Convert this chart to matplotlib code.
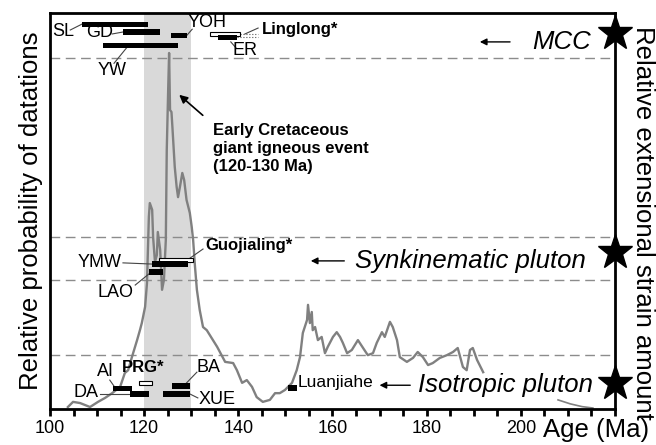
import matplotlib
matplotlib.use("Agg")
import matplotlib.pyplot as plt

plt.rcParams['font.family'] = ['Liberation Sans', 'DejaVu Sans']

# probability curve (age Ma, relative probability)
ages = [103.8, 104.9, 106.4, 108.5, 110.2, 111.7, 113.2, 114.9, 115.9, 116.6,
        117.4, 118.5, 119.1, 119.5, 120.2, 120.6, 120.8, 121.0, 121.2, 121.7,
        121.9, 122.3, 122.7, 122.9, 123.4, 123.8, 124.2, 124.6, 124.8, 125.1,
        125.3, 125.5, 125.8, 126.0, 126.5, 126.9, 127.2, 127.6, 128.1, 128.5,
        129.0, 129.7, 130.1, 130.4, 130.8, 131.2, 131.8, 132.5, 133.3, 135.5,
        137.2, 138.9, 139.7, 140.8, 141.8, 142.9, 143.9, 145.2, 146.7, 147.8,
        148.8, 149.9, 151.4, 152.4, 153.1, 153.7, 154.6, 154.8, 155.2, 155.6,
        155.8, 156.3, 156.9, 157.7, 158.4, 159.0, 160.1, 160.9, 161.6, 162.2,
        163.1, 164.1, 165.4, 166.5, 167.5, 168.6, 169.4, 170.5, 171.1, 172.2,
        172.8, 173.7, 174.3, 175.8, 177.1, 178.1, 179.2, 180.3, 181.3, 182.8,
        184.3, 185.6, 186.6, 187.7, 188.5, 189.2, 189.8, 190.7, 192.0]
prob = [0.5, 1.8, 1.5, 0.5, 1.8, 2.8, 4.0, 5.6, 9.1, 9.8,
        13.1, 17.4, 19.9, 21.7, 25.8, 31.8, 40.2, 48.5, 52.0, 50.3,
        43.4, 37.1, 38.9, 44.7, 40.2, 30.1, 32.6, 42.7, 65.4, 80.6,
        89.9, 75.5, 75.0, 71.2, 61.1, 56.1, 53.5, 56.1, 59.6, 57.8,
        52.8, 49.5, 46.0, 42.7, 35.9, 30.1, 25.0, 20.7, 19.9, 15.7,
        11.9, 11.6, 9.8, 6.6, 7.3, 5.6, 3.0, 1.8, 2.3, 4.0,
        4.0, 4.8, 6.6, 9.8, 13.1, 19.2, 22.5, 26.3, 21.7, 24.5,
        19.9, 20.7, 17.4, 18.2, 14.1, 15.7, 18.2, 19.4, 18.2, 16.7,
        14.1, 14.9, 17.4, 15.4, 13.6, 14.1, 16.7, 19.4, 18.2, 22.0,
        20.7, 17.4, 13.1, 11.9, 12.9, 14.4, 13.1, 11.1, 11.6, 12.9,
        13.6, 14.4, 15.4, 10.6, 9.8, 14.9, 15.4, 12.4, 9.3]
tail_ages = [207.9, 210.5, 213.0, 215.3]
tail_prob = [2.3, 1.3, 0.6, 0.25]

# age ranges of dated bodies: name, start, end, level, open (starred)
bar_names = ['SL', 'GD', 'YOH', 'YW', 'Linglong*', 'ER',
             'Guojialing*', 'YMW', 'LAO',
             'AI', 'DA', 'PRG*', 'BA', 'XUE', 'Luanjiahe']
bar_start = [106.8, 115.5, 125.7, 111.3, 134.0, 135.7,
             123.2, 121.7, 121.0,
             113.4, 117.0, 118.9, 125.9, 124.0, 150.5]
bar_end = [120.8, 123.4, 129.1, 127.2, 140.4, 139.7,
           130.4, 129.3, 124.0,
           117.4, 121.0, 121.7, 129.7, 129.7, 152.5]
bar_level = [97.2, 95.2, 94.4, 91.7, 94.7, 93.9,
             37.6, 36.6, 34.6,
             5.1, 3.8, 6.6, 5.8, 3.8, 5.3]
bar_open = [False, False, False, False, True, False,
            True, False, False,
            False, False, True, False, False, False]

dash_levels = [88.6, 43.4, 32.6, 13.6]
star_levels = [95.0, 39.6, 6.6]
event_span = (120, 130)

fig = plt.figure(figsize=(6.56, 4.45), dpi=100)
ax = fig.add_axes([0.0762, 0.0809, 0.8613, 0.8899])

ax.axvspan(event_span[0], event_span[1], color='#d9d9d9', lw=0, zorder=0)
for lv in dash_levels:
    ax.axhline(lv, color='#8c8c8c', lw=1, dashes=(7, 4), zorder=1)

ax.plot(ages, prob, color='#808080', lw=1.7, zorder=2)
ax.plot(tail_ages, tail_prob, color='#808080', lw=1.2, zorder=2)

for i in range(len(bar_names)):
    if bar_open[i]:
        ax.barh(bar_level[i], bar_end[i] - bar_start[i], left=bar_start[i], height=1.1,
                color='white', edgecolor='black', lw=0.8, zorder=4)
    else:
        ax.barh(bar_level[i], bar_end[i] - bar_start[i], left=bar_start[i], height=1.3,
                color='black', lw=0, zorder=4)

# dotted extension of Linglong / ER
ax.plot([140.4, 144.2], [94.7, 94.7], color='#555555', lw=0.8, ls=':', zorder=3)
ax.plot([139.7, 144.2], [93.9, 93.9], color='#555555', lw=0.8, ls=':', zorder=3)

def label(txt, tx, ty, lx=None, ly=None, bold=False, size=13, ha='center'):
    ax.text(tx, ty, txt, fontsize=size, ha=ha, va='center',
            fontweight='bold' if bold else 'normal', zorder=6)
    if lx is not None:
        ax.plot(lx, ly, color='#444444', lw=0.8, zorder=3)

label('SL', 102.8, 95.4, [104.3, 106.8], [95.7, 97.2])
label('GD', 110.6, 95.0, [113.2, 115.5], [94.7, 95.2])
label('YOH', 133.3, 97.6, [129.1, 130.2], [94.4, 95.9])
label('YW', 113.2, 85.6, [113.6, 116.4], [87.3, 91.4])
label('Linglong*', 145.0, 95.9, [141.4, 144.2], [94.7, 96.2], bold=True, size=12, ha='left')
label('ER', 141.4, 90.6, [138.4, 139.5], [92.7, 91.2])
label('YMW', 110.6, 37.1, [115.5, 121.7], [36.9, 36.6])
label('LAO', 114.0, 29.4, [118.1, 121.0], [31.3, 34.1])
label('Guojialing*', 132.9, 41.4, [132.5, 129.5], [40.4, 37.9], bold=True, size=12, ha='left')
label('AI', 111.7, 9.4, [112.7, 114.0], [7.3, 5.1])
label('DA', 107.6, 4.2, [110.6, 117.2], [3.8, 3.8])
label('PRG*', 119.8, 10.6, bold=True, size=12)
label('BA', 133.6, 10.6, [131.2, 128.2], [9.3, 5.6])
label('XUE', 135.5, 2.5, [129.7, 131.4], [3.8, 2.8])
label('Luanjiahe', 152.7, 6.8, size=12.5, ha='left')

ax.text(134.6, 65.9, 'Early Cretaceous\ngiant igneous event\n(120-130 Ma)',
        fontsize=12, fontweight='bold', ha='left', va='center', linespacing=1.25)
ax.annotate('', xy=(127.0, 79.8), xytext=(132.9, 73.7),
            arrowprops=dict(arrowstyle='-|>', color='black', lw=1.2, mutation_scale=12))

for txt, x0, x1, tx, ty in [('MCC', 198.3, 190.7, 202.4, 92.7),
                            ('Synkinematic pluton', 163.1, 154.8, 164.8, 37.4),
                            ('Isotropic pluton', 177.1, 169.4, 178.2, 6.0)]:
    ax.text(tx, ty, txt, fontsize=18.5, style='italic', ha='left', va='center')
    ax.annotate('', xy=(x1, ty), xytext=(x0, ty),
                arrowprops=dict(arrowstyle='-|>', color='black', lw=1.0, mutation_scale=10))

ax.plot([220] * len(star_levels), star_levels, '*', color='black', ms=26,
        clip_on=False, zorder=7)

ax.set_xlim(100, 220)
ax.set_ylim(0, 100)
ticks = list(range(100, 221, 5))
ax.set_xticks(ticks)
ax.set_xticklabels([str(t) if t % 20 == 0 and t < 220 else '' for t in ticks], fontsize=13)
ax.tick_params(axis='x', direction='out', length=5, width=2, pad=3)
ax.set_yticks([])
for sp in ax.spines.values():
    sp.set_linewidth(2)

ax.set_ylabel('Relative probability of datations', fontsize=18.5, labelpad=5)
fig.text(0.98, 0.5, 'Relative extensional strain amount', fontsize=18.5,
         rotation=-90, ha='center', va='center')
fig.text(0.908, 0.034, 'Age (Ma)', fontsize=18.5, ha='center', va='center')

fig.savefig('out.png', dpi=100)
